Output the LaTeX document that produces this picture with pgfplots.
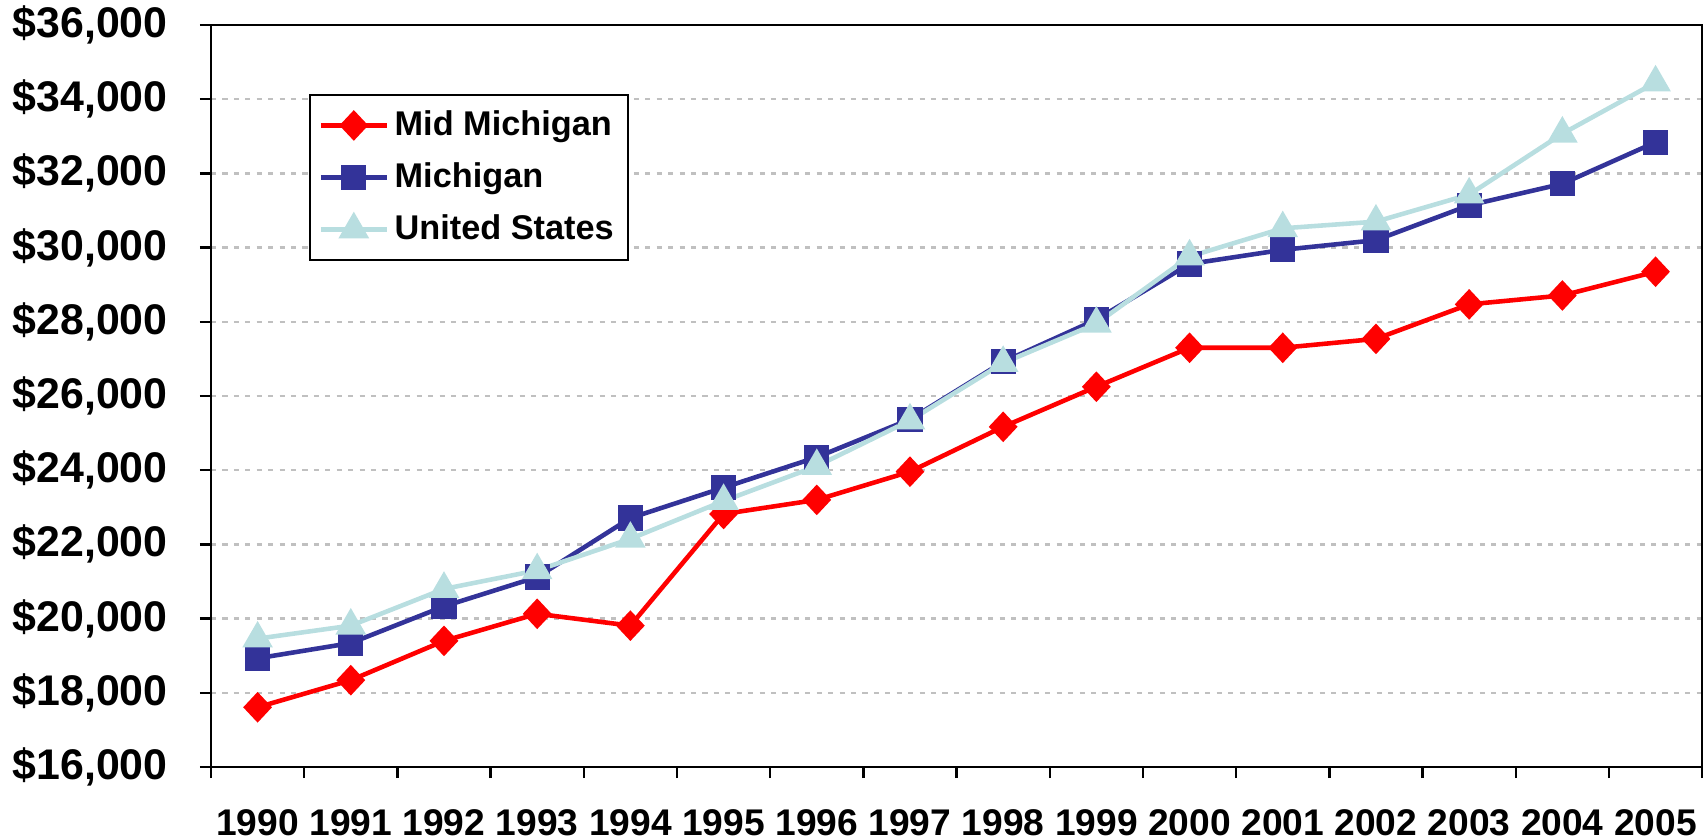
\documentclass[border=0pt]{standalone}
\usepackage{pgfplots}
\pgfplotsset{compat=1.18}
\usepackage{fontspec}
\setmainfont{Liberation Sans}
\definecolor{mmred}{RGB}{255,0,0}
\definecolor{mblue}{RGB}{51,51,153}
\definecolor{uslight}{RGB}{184,222,224}
\definecolor{gridgray}{RGB}{192,192,192}
\begin{document}
\begin{tikzpicture}
\useasboundingbox (-73.85pt,-24.15pt) rectangle (523.6pt,268.45pt);
\begin{axis}[
 at={(0,0)}, anchor=south west,
 scale only axis, width=521.9pt, height=259.7pt,
 xmin=-0.5, xmax=15.5, ymin=16000, ymax=36000,
 scaled y ticks=false,
 xtick={0,...,15},
 xticklabels={1990,1991,1992,1993,1994,1995,1996,1997,1998,1999,2000,2001,2002,2003,2004,2005},
 minor xtick={-0.5,0.5,...,15.5},
 major x tick style={draw=none},
 minor tick length=3.85pt,
 major tick length=3.85pt,
 tick align=outside,
 tick pos=left,
 ytick={16000,18000,...,36000},
 yticklabels={{\$16,000},{\$18,000},{\$20,000},{\$22,000},{\$24,000},{\$26,000},{\$28,000},{\$30,000},{\$32,000},{\$34,000},{\$36,000}},
 ymajorgrids,
 grid style={gridgray, line width=0.8pt, dash pattern=on 1.8pt off 2.2pt},
 axis line style={line width=0.8pt},
 tick style={black, line width=0.8pt},
 yticklabel style={font=\fontsize{15}{15}\selectfont\bfseries, xshift=-7.8pt},
 xticklabel style={font=\fontsize{13}{13}\selectfont\bfseries, inner ysep=0pt, yshift=-10.9pt},
 legend style={at={(0.0657,0.907)}, anchor=north west, draw=black, line width=0.8pt,
   font=\fontsize{12}{12}\selectfont\bfseries, row sep=4pt, inner xsep=3pt, inner ysep=3.5pt,
   cells={anchor=west}},
 legend image code/.code={\draw[mark repeat=2,mark phase=2,#1] plot coordinates {(0pt,0pt) (11.5pt,0pt) (23pt,0pt)};},
]
\addplot[mmred, line width=1.6pt, mark=diamond*, mark size=4.2pt, mark options={solid, xscale=1.25}]
 coordinates {(0,17610)(1,18340)(2,19400)(3,20130)(4,19810)(5,22820)(6,23200)(7,23960)
 (8,25170)(9,26250)(10,27300)(11,27300)(12,27540)(13,28470)(14,28710)(15,29350)};
\addlegendentry{Mid Michigan}
\addplot[mblue, line width=1.6pt, mark=square*, mark size=3.6pt, mark options={solid}]
 coordinates {(0,18930)(1,19340)(2,20330)(3,21120)(4,22710)(5,23530)(6,24350)(7,25370)
 (8,26920)(9,28060)(10,29560)(11,29940)(12,30200)(13,31140)(14,31720)(15,32840)};
\addlegendentry{Michigan}
\addplot[uslight, line width=1.6pt, mark=triangle*, mark size=4.6pt, mark options={solid}]
 coordinates {(0,19460)(1,19810)(2,20800)(3,21300)(4,22150)(5,23170)(6,24110)(7,25340)
 (8,26890)(9,27950)(10,29760)(11,30520)(12,30700)(13,31430)(14,33070)(15,34450)};
\addlegendentry{United States}
\end{axis}
\end{tikzpicture}
\end{document}
